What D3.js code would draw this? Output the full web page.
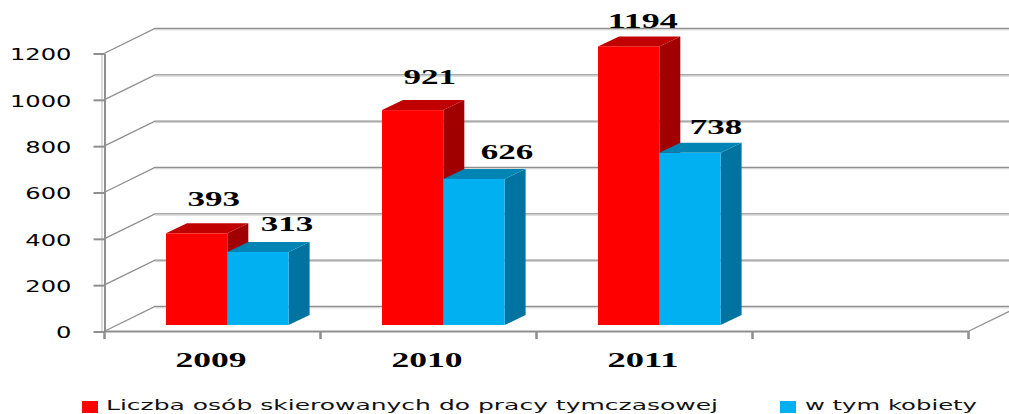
<!DOCTYPE html>
<html><head><meta charset="utf-8">
<script src="https://cdn.jsdelivr.net/npm/d3@7"></script>
<style>html,body{margin:0;padding:0;background:#fff;overflow:hidden}svg{display:block}</style>
</head><body><svg id="c" width="1009" height="414"></svg>
<script>
const categories = ["2009","2010","2011",""];
const seriesNames = ["Liczba osób skierowanych do pracy tymczasowej","w tym kobiety"];
const redValues = [393,921,1194];
const blueValues = [313,626,738];
const tickValues = [0,200,400,600,800,1000,1200];

const W=1009,H=414, svg=d3.select("#c");
const x0=d3.scaleBand().domain(categories).range([104,968]);
const inner=d3.scaleBand().domain([0,1]).range([62,184.6]);
const yAxisScale=d3.scaleLinear().domain([0,1200]).range([331.5,53.5]);
const yBar=d3.scaleLinear().domain([0,1200]).range([325,45]);
const wallDx=51, wallDy=-25, barDx=21, barDy=-10;
const gridCol="#8f8f8f";

// side wall shading and back gridlines
svg.append("line").attr("x1",102).attr("x2",102).attr("y1",53).attr("y2",331).attr("stroke","#dcdcdc").attr("stroke-width",2);
tickValues.forEach(v=>{
  const y=yAxisScale(v);
  svg.append("path").attr("fill","none").attr("stroke",gridCol).attr("stroke-width",1.3)
    .attr("d",d3.line()([[104,y],[104+wallDx,y+wallDy],[W,y+wallDy]]));
  svg.append("line").attr("x1",155).attr("x2",W).attr("y1",y+wallDy+1.3).attr("y2",y+wallDy+1.3).attr("stroke","#d0d0d0").attr("stroke-width",1);
});
// floor right edge
svg.append("line").attr("x1",968).attr("y1",331.5).attr("x2",968+wallDx).attr("y2",331.5+wallDy).attr("stroke",gridCol).attr("stroke-width",1.3);

// bars
const series=[
 {vals:redValues,front:"#ff0000",top:"#c00000",side:"#a00000",nudgeX:[17,17,14],nudgeY:[-27,-26,-18]},
 {vals:blueValues,front:"#00b0f0",top:"#0084b4",side:"#0073a0",nudgeX:[29,33,26],nudgeY:[-21,-20,-19]}
];
series.forEach((s,si)=>{
  s.vals.forEach((v,i)=>{
    const xl=x0(categories[i])+inner(si), w=inner.bandwidth(), yt=yBar(v), yb=yBar(0);
    const g=svg.append("g");
    g.append("path").attr("fill",s.side).attr("d",d3.line()([[xl+w,yb],[xl+w+barDx,yb+barDy],[xl+w+barDx,yt+barDy],[xl+w,yt]])+"Z");
    g.append("path").attr("fill",s.top).attr("d",d3.line()([[xl,yt],[xl+barDx,yt+barDy],[xl+w+barDx,yt+barDy],[xl+w,yt]])+"Z");
    g.append("rect").attr("x",xl).attr("y",yt).attr("width",w).attr("height",yb-yt).attr("fill",s.front);
  });
});
// data labels on top of all bars
series.forEach((s,si)=>{
  s.vals.forEach((v,i)=>{
    const xl=x0(categories[i])+inner(si), w=inner.bandwidth();
    const txt=String(v);
    svg.append("text").text(txt).attr("x",xl+w/2+s.nudgeX[i]).attr("y",yBar(v)+s.nudgeY[i])
      .attr("text-anchor","middle").attr("font-family","'Liberation Serif'").attr("font-weight","bold")
      .attr("font-size",21).attr("textLength",txt.length*17.5).attr("lengthAdjust","spacingAndGlyphs").attr("fill","#000");
  });
});

// y axis
const ax=svg.append("g").attr("transform","translate(104.5,0)").call(d3.axisLeft(yAxisScale).tickValues(tickValues).tickSize(11).tickSizeOuter(0).tickPadding(22).tickFormat(d3.format("d")));
ax.selectAll("path,line").attr("stroke",gridCol).attr("stroke-width",2);
ax.selectAll("text").attr("font-family","'DejaVu Sans'").attr("font-size",15).attr("fill","#000").attr("dy","0.42em")
  .each(function(d){d3.select(this).attr("textLength",String(d).length*15.4).attr("lengthAdjust","spacingAndGlyphs");});

// x axis
const xa=d3.scalePoint().domain(d3.range(categories.length+1)).range([104,968]);
const xg=svg.append("g");
xg.append("line").attr("x1",104).attr("x2",968).attr("y1",331.5).attr("y2",331.5).attr("stroke",gridCol).attr("stroke-width",2);
xa.domain().forEach(k=>xg.append("line").attr("x1",xa(k)+.5).attr("x2",xa(k)+.5).attr("y1",331).attr("y2",339).attr("stroke",gridCol).attr("stroke-width",2.5));
categories.filter(c=>c).forEach(c=>{
  svg.append("text").text(c).attr("x",x0(c)+x0.bandwidth()/2-1).attr("y",367).attr("text-anchor","middle")
   .attr("font-family","'Liberation Serif'").attr("font-weight","bold").attr("font-size",21)
   .attr("textLength",71).attr("lengthAdjust","spacingAndGlyphs");
});

// legend
const legend=[{x:82,tx:106,len:612,c:"#ff0000"},{x:780,tx:805,len:172,c:"#00b0f0"}];
legend.forEach((l,i)=>{
  svg.append("rect").attr("x",l.x).attr("y",401).attr("width",16).attr("height",12).attr("fill",l.c);
  svg.append("text").text(seriesNames[i]).attr("x",l.tx).attr("y",410).attr("font-family","'DejaVu Sans'").attr("font-size",14)
   .attr("textLength",l.len).attr("lengthAdjust","spacingAndGlyphs").attr("fill","#111");
});
</script></body></html>
